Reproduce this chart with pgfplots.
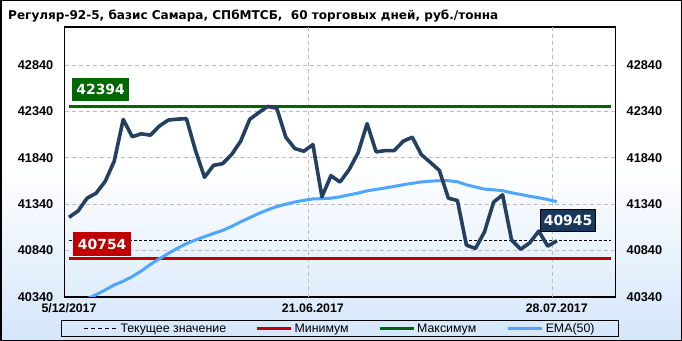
\documentclass[border=0pt]{standalone}
\usepackage{pgfplots}
\pgfplotsset{compat=1.18}
\usepackage{pgfplotstable}
\usepackage{fontspec}
\setmainfont{Liberation Sans}
\newfontfamily\labfont{DejaVu Sans}

\definecolor{darkline}{RGB}{36,64,97}
\definecolor{emablue}{RGB}{77,166,255}
\definecolor{maxgreen}{RGB}{0,102,0}
\definecolor{minred}{RGB}{192,0,0}
\definecolor{navybox}{RGB}{23,55,94}
\definecolor{bgblue}{RGB}{212,230,250}
\definecolor{gridgray}{RGB}{190,190,190}

\pgfplotstableread{
i price ema
0 41199 40226
1 41267 40275
2 41405 40320
3 41459 40365
4 41585 40415
5 41802 40470
6 42254 40510
7 42067 40560
8 42099 40620
9 42084 40690
10 42182 40752
11 42247 40810
12 42257 40865
13 42262 40915
14 41920 40955
15 41631 40990
16 41759 41025
17 41777 41057
18 41875 41100
19 42019 41150
20 42254 41195
21 42327 41240
22 42394 41280
23 42374 41314
24 42062 41340
25 41940 41364
26 41911 41382
27 41983 41397
28 41421 41400
29 41647 41405
30 41579 41420
31 41712 41440
32 41893 41460
33 42208 41484
34 41904 41500
35 41918 41515
36 41918 41532
37 42019 41550
38 42062 41565
39 41875 41580
40 41791 41588
41 41704 41593
42 41405 41593
43 41380 41582
44 40899 41549
45 40863 41525
46 41043 41503
47 41362 41495
48 41441 41486
49 40953 41463
50 40855 41445
51 40923 41425
52 41050 41410
53 40888 41390
54 40945 41368
}\datatable

\pgfplotsset{
  commonaxis/.style={
    scale only axis, width=551bp, height=270bp,
    at={(64.5bp,44bp)}, anchor=south west,
    xmin=-0.5, xmax=60.5, ymin=40340, ymax=43250,
    ytick={40340,40840,41340,41840,42340,42840},
    scaled y ticks=false,
    major tick length=0pt,
    tick label style={font=\bfseries\fontsize{12.8}{15}\selectfont},
    /pgf/number format/assume math mode=true,
    /pgf/number format/fixed,
    /pgf/number format/precision=0,
    /pgf/number format/1000 sep={},
    axis line style={line width=1.2bp},
  }
}

\begin{document}
\begin{tikzpicture}
\fill[white] (0,0) rectangle (682bp,341bp);
\shade[top color=white, bottom color=bgblue] (0,0) rectangle (682bp,175bp);

\node[anchor=base west, inner sep=0pt] at (8bp,321bp)
  {\labfont\bfseries\fontsize{12.1}{15}\selectfont Регуляр-92-5, базис Самара, СПбМТСБ,\ \ 60 торговых дней, руб./тонна};

\begin{axis}[
  commonaxis,
  xtick={0,27,54},
  xticklabels={5/12/2017,21.06.2017,28.07.2017},
  extra x ticks={26.5,53.5},
  extra x tick labels={},
  extra x tick style={grid=major},
  ymajorgrids,
  grid style={gridgray, line width=0.8bp, dash pattern=on 4bp off 3bp},
  yticklabel style={inner sep=0pt, xshift=-11bp},
  xticklabel style={inner sep=0pt, yshift=-6.5bp, font=\bfseries\fontsize{12.4}{15}\selectfont},
  legend style={at={(0.5,-0.0852)}, anchor=north, draw=black, line width=1bp,
    fill=none, legend columns=4, inner xsep=22bp, inner ysep=1bp,
    font=\fontsize{12.4}{13}\selectfont,
    /tikz/every even column/.append style={column sep=28bp}},
  legend cell align=left,
  legend image code/.code={\draw[#1] (0bp,0bp) -- (34bp,0bp);},
]
\addplot[minred, line width=2.2bp, forget plot] coordinates {(0,40754) (60,40754)};
\addplot[maxgreen, line width=2.6bp, forget plot] coordinates {(0,42394) (60,42394)};
\addplot[black, line width=1bp, dash pattern=on 3bp off 2bp, forget plot] coordinates {(0,40945) (60,40945)};
\addplot[emablue, line width=3bp, line join=round, forget plot] table[x=i,y=ema]{\datatable};
\addplot[darkline, line width=3.6bp, line join=round, forget plot] table[x=i,y=price]{\datatable};

\addlegendimage{black, line width=1bp, dash pattern=on 4bp off 3bp}
\addlegendentry{Текущее значение}
\addlegendimage{minred, line width=2.5bp}
\addlegendentry{Минимум}
\addlegendimage{maxgreen, line width=2.5bp}
\addlegendentry{Максимум}
\addlegendimage{emablue, line width=3.5bp}
\addlegendentry{EMA(50)}

\node[fill=maxgreen, text=white, font=\labfont\bfseries\fontsize{14}{16}\selectfont,
  inner xsep=4.5bp, inner ysep=0pt, minimum height=23bp] at (axis cs:3.5,42574) {42394};
\node[fill=minred, text=white, font=\labfont\bfseries\fontsize{14}{16}\selectfont,
  inner xsep=5bp, inner ysep=0pt, minimum height=23.5bp] at (axis cs:3.67,40910) {40754};
\node[fill=navybox, draw=black, line width=1bp, text=white, font=\labfont\bfseries\fontsize{14}{16}\selectfont,
  inner xsep=3bp, inner ysep=0pt, minimum height=22.5bp] at (axis cs:55.25,41166) {40945};
\end{axis}

\begin{axis}[
  commonaxis,
  axis y line*=right, hide x axis,
  yticklabel style={inner sep=0pt, xshift=11bp},
]
\end{axis}

\draw[line width=1.5bp] (0.75bp,0.75bp) rectangle (681.25bp,340.25bp);
\pgfresetboundingbox
\useasboundingbox (0,0) rectangle (682bp,341bp);
\end{tikzpicture}
\end{document}
